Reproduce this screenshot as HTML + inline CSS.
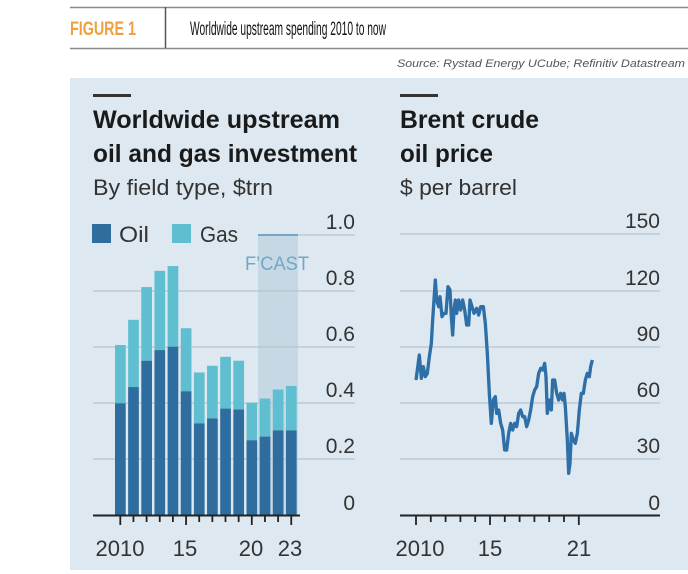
<!DOCTYPE html>
<html><head><meta charset="utf-8"><style>
html,body{margin:0;padding:0;background:#fff;width:688px;height:574px;overflow:hidden}
svg{display:block}
</style></head><body>
<svg width="688" height="574" viewBox="0 0 688 574" xmlns="http://www.w3.org/2000/svg" font-family="Liberation Sans, sans-serif">
<line x1="70" y1="7.5" x2="688" y2="7.5" stroke="#8a8a8a" stroke-width="1.5"/>
<line x1="70" y1="48.5" x2="688" y2="48.5" stroke="#8a8a8a" stroke-width="1.5"/>
<line x1="165.5" y1="7" x2="165.5" y2="48" stroke="#555" stroke-width="1.5"/>
<text x="70" y="35" font-size="19" font-weight="bold" fill="#f0a040" textLength="66" lengthAdjust="spacingAndGlyphs">FIGURE 1</text>
<text x="190" y="35" font-size="19" fill="#111" textLength="196" lengthAdjust="spacingAndGlyphs">Worldwide upstream spending 2010 to now</text>
<text x="685" y="67" font-size="11" font-style="italic" fill="#555" text-anchor="end" textLength="288" lengthAdjust="spacingAndGlyphs">Source: Rystad Energy UCube; Refinitiv Datastream</text>
<rect x="70" y="78" width="618" height="492" fill="#dde8f0"/>

<rect x="93" y="94" width="38" height="3" fill="#333"/>
<rect x="400" y="94" width="38" height="3" fill="#333"/>
<g fill="#1a1a1a">
<text x="93" y="128" font-size="25" font-weight="bold" textLength="247" lengthAdjust="spacingAndGlyphs">Worldwide upstream</text>
<text x="93" y="162" font-size="25" font-weight="bold" textLength="264" lengthAdjust="spacingAndGlyphs">oil and gas investment</text>
<text x="93" y="195" font-size="22" fill="#333" textLength="180" lengthAdjust="spacingAndGlyphs">By field type, $trn</text>
<text x="400" y="128" font-size="25" font-weight="bold" textLength="139" lengthAdjust="spacingAndGlyphs">Brent crude</text>
<text x="400" y="162" font-size="25" font-weight="bold" textLength="93" lengthAdjust="spacingAndGlyphs">oil price</text>
<text x="400" y="195" font-size="22" fill="#333" textLength="117" lengthAdjust="spacingAndGlyphs">$ per barrel</text>
</g>

<rect x="92" y="224" width="19" height="19" fill="#2f6d9e"/>
<text x="119" y="242" font-size="22" fill="#333" textLength="30" lengthAdjust="spacingAndGlyphs">Oil</text>
<rect x="172" y="224" width="19" height="19" fill="#5fbfd0"/>
<text x="200" y="242" font-size="22" fill="#333" textLength="38" lengthAdjust="spacingAndGlyphs">Gas</text>

<rect x="258" y="235" width="40" height="280" fill="#c6d8e4"/>
<line x1="298" y1="235" x2="355" y2="235" stroke="#b7c5cf" stroke-width="1.2"/>
<line x1="258" y1="235" x2="298" y2="235" stroke="#6fa8c8" stroke-width="2"/>
<text x="245" y="270" font-size="19" fill="#6fa8c8" textLength="64" lengthAdjust="spacingAndGlyphs">F’CAST</text>

<g stroke="#b7c5cf" stroke-width="1.2">
<line x1="93" y1="291" x2="355" y2="291"/>
<line x1="93" y1="347" x2="355" y2="347"/>
<line x1="93" y1="403" x2="355" y2="403"/>
<line x1="93" y1="459" x2="355" y2="459"/>
</g>
<g font-size="21" fill="#333" text-anchor="end">
<text x="355" y="229">1.0</text><text x="355" y="285">0.8</text><text x="355" y="341">0.6</text>
<text x="355" y="397">0.4</text><text x="355" y="453">0.2</text><text x="355" y="510">0</text>
</g>
<g id="bars"></g>
<line x1="93" y1="515.5" x2="300" y2="515.5" stroke="#222" stroke-width="2"/>
<g id="lticks" stroke="#222" stroke-width="1.8"></g>
<g font-size="22" fill="#333" text-anchor="middle">
<text x="120" y="556">2010</text><text x="185" y="556">15</text><text x="251" y="556">20</text><text x="290" y="556">23</text>
</g>

<g stroke="#b7c5cf" stroke-width="1.2">
<line x1="400" y1="234" x2="660" y2="234"/>
<line x1="400" y1="291" x2="660" y2="291"/>
<line x1="400" y1="347" x2="660" y2="347"/>
<line x1="400" y1="403" x2="660" y2="403"/>
<line x1="400" y1="459" x2="660" y2="459"/>
</g>
<g font-size="21" fill="#333" text-anchor="end">
<text x="660" y="228">150</text><text x="660" y="285">120</text><text x="660" y="341">90</text>
<text x="660" y="397">60</text><text x="660" y="453">30</text><text x="660" y="510">0</text>
</g>
<line x1="400" y1="515.5" x2="660" y2="515.5" stroke="#222" stroke-width="2"/>
<g id="rticks" stroke="#222" stroke-width="1.8"></g>
<g font-size="22" fill="#333" text-anchor="middle">
<text x="420" y="556">2010</text><text x="490" y="556">15</text><text x="579" y="556">21</text>
</g>
<g transform="translate(380,200) scale(0.33333)">
<polyline fill="none" stroke="#2e6fa8" stroke-width="10" stroke-linejoin="round" points="108,540 118,465 124,535 130,500 136,530 142,520 148,470 154,430 158,360 162,300 166,240 170,300 176,320 180,290 186,350 192,340 198,340 204,260 210,270 214,350 218,405 222,330 226,300 230,340 236,300 242,330 248,300 254,330 260,375 266,375 270,300 276,320 282,340 290,325 296,345 302,320 310,320 316,370 322,460 328,580 334,670 340,600 346,590 350,640 356,630 362,670 368,690 374,750 380,750 386,700 392,670 398,690 404,670 410,680 416,640 422,630 428,650 434,650 440,680 446,660 452,630 458,590 464,570 470,560 476,520 482,505 488,510 494,490 498,530 502,640 508,600 514,630 518,540 524,540 530,580 536,600 542,580 548,600 552,580 556,620 562,720 566,820 570,790 574,700 580,720 586,730 592,700 598,630 604,580 610,580 616,540 622,520 628,530 632,500 637,480"/>
</g>
</svg>
<script>
var NS="http://www.w3.org/2000/svg";
var tot=[0.607,0.697,0.814,0.872,0.889,0.667,0.509,0.533,0.565,0.551,0.401,0.416,0.448,0.461];
var oil=[0.399,0.457,0.551,0.589,0.601,0.442,0.327,0.345,0.380,0.377,0.267,0.280,0.302,0.302];
var g=document.getElementById("bars");
function r(x,y,w,h,c){var e=document.createElementNS(NS,"rect");e.setAttribute("x",x);e.setAttribute("y",y);e.setAttribute("width",w);e.setAttribute("height",h);e.setAttribute("fill",c);g.appendChild(e);}
for(var i=0;i<14;i++){var x=115+i*13.15;var yt=515-tot[i]*280,yo=515-oil[i]*280;r(x,yt,10.7,yo-yt,"#5fbfd0");r(x,yo,10.7,515-yo,"#2f6d9e");}
function t(id,x,len){var e=document.createElementNS(NS,"line");e.setAttribute("x1",x);e.setAttribute("x2",x);e.setAttribute("y1",516);e.setAttribute("y2",516+len);document.getElementById(id).appendChild(e);}
for(var i=0;i<14;i++){var x=120.3+i*13.15;t("lticks",x,(i==0||i==5||i==10||i==13)?9:6);}
for(var i=0;i<12;i++){var x=416+i*14.8;t("rticks",x,(i==0||i==5||i==11)?9:6);}
</script>
</body></html>
